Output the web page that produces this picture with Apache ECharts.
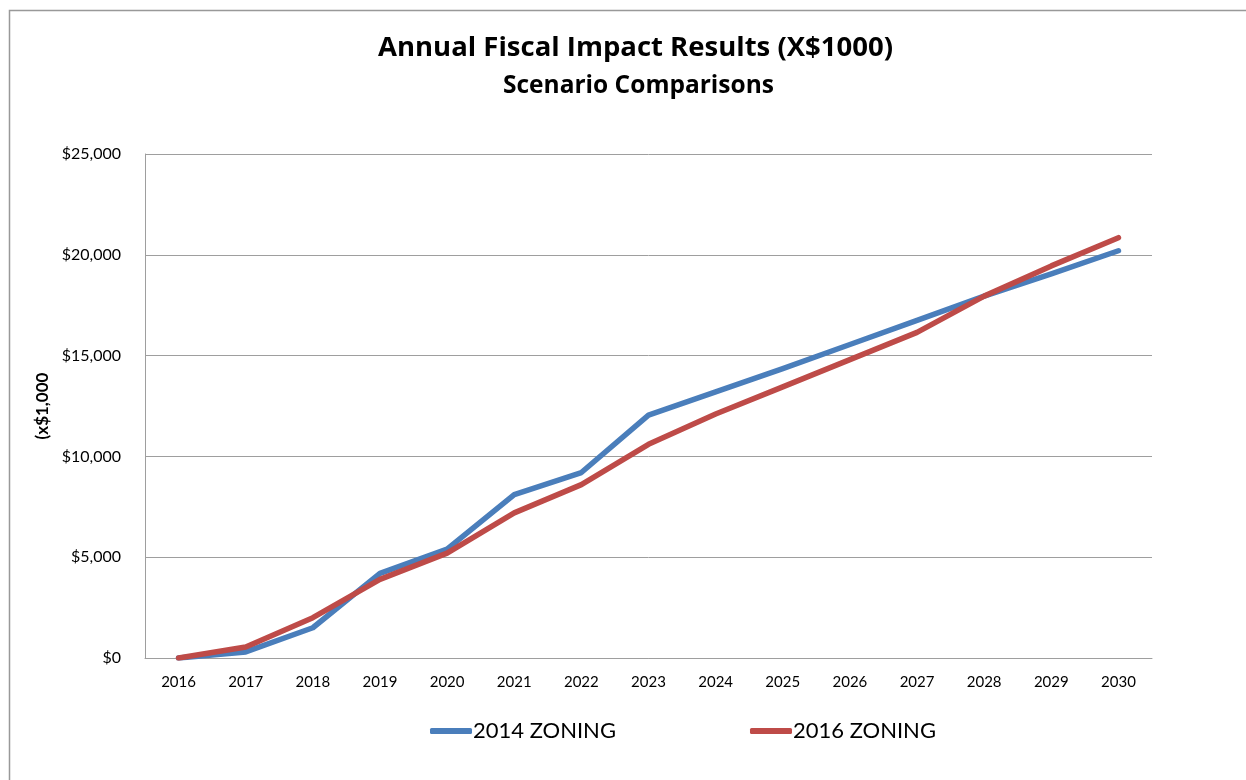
<!DOCTYPE html>
<html>
<head>
<meta charset="utf-8">
<script src="https://cdn.jsdelivr.net/npm/echarts@6/dist/echarts.min.js"></script>
<style>html,body{margin:0;padding:0;background:#fff;}#c{width:1246px;height:780px;}</style>
</head>
<body>
<div id="c"></div>
<script>
const years = ['2016','2017','2018','2019','2020','2021','2022','2023','2024','2025','2026','2027','2028','2029','2030'];
const zoning2014 = [0, 300, 1500, 4200, 5400, 8100, 9200, 12050, 13200, 14350, 15550, 16750, 17950, 19050, 20200];
const zoning2016 = [0, 550, 2000, 3900, 5200, 7200, 8600, 10600, 12100, 13450, 14800, 16150, 17950, 19450, 20850];
const yTicks = {min: 0, max: 25000, interval: 5000};
const titleText = 'Annual Fiscal Impact Results (X$1000)';
const subtitleText = 'Scenario Comparisons';
const yName = '(x$1,000';
const seriesNames = ['2014 ZONING', '2016 ZONING'];

const chart = echarts.init(document.getElementById('c'), null, {renderer: 'canvas'});
const font = 'Lato, "Open Sans", sans-serif';
const tfont = '"Open Sans", sans-serif';
chart.setOption({
  backgroundColor: '#fff',
  animation: false,
  title: [{
    text: titleText,
    left: 373,
    top: 29,
    textStyle: {fontFamily: tfont, fontWeight: 'bold', fontSize: 27.5, color: '#000'}
  }, {
    text: subtitleText,
    left: 498,
    top: 69,
    textStyle: {fontFamily: tfont, fontWeight: 'bold', fontSize: 24.5, color: '#000'}
  }],
  graphic: [{
    type: 'polyline',
    shape: {points: [[9.5, 780], [9.5, 10.5], [1246, 10.5]]},
    style: {stroke: '#999', lineWidth: 1.5, fill: null},
    silent: true
  }],
  legend: {
    top: 715,
    left: 425,
    itemWidth: 42,
    itemHeight: 6,
    itemGap: 134,
    icon: 'roundRect',
    textStyle: {fontFamily: font, fontSize: 22, color: '#000', padding: [0, 0, 0, -4]},
    data: seriesNames
  },
  grid: {left: 145, right: 94, top: 154, bottom: 122, containLabel: false},
  xAxis: {
    type: 'category',
    data: years,
    boundaryGap: true,
    axisLine: {lineStyle: {color: '#9e9e9e', width: 1}},
    axisTick: {show: false},
    axisLabel: {fontFamily: font, fontSize: 15, color: '#000', margin: 17}
  },
  yAxis: {
    type: 'value',
    min: yTicks.min,
    max: yTicks.max,
    interval: yTicks.interval,
    name: yName,
    nameLocation: 'middle',
    nameGap: 90,
    nameRotate: 90,
    nameTextStyle: {fontFamily: font, fontWeight: 'bold', fontSize: 17, color: '#000'},
    axisLine: {show: true, lineStyle: {color: '#9e9e9e', width: 1}},
    axisTick: {show: false},
    splitLine: {lineStyle: {color: '#9e9e9e', width: 1}},
    axisLabel: {
      fontFamily: font, fontSize: 16, color: '#000', margin: 24,
      formatter: v => '$' + v.toLocaleString('en-US')
    }
  },
  series: [
    {name: seriesNames[0], type: 'line', data: zoning2014, symbol: 'none',
     lineStyle: {color: '#4a7ebb', width: 5.5, cap: 'round', join: 'round'}, itemStyle: {color: '#4a7ebb'}},
    {name: seriesNames[1], type: 'line', data: zoning2016, symbol: 'none',
     lineStyle: {color: '#be4b48', width: 5.5, cap: 'round', join: 'round'}, itemStyle: {color: '#be4b48'}}
  ]
});
</script>
</body>
</html>
